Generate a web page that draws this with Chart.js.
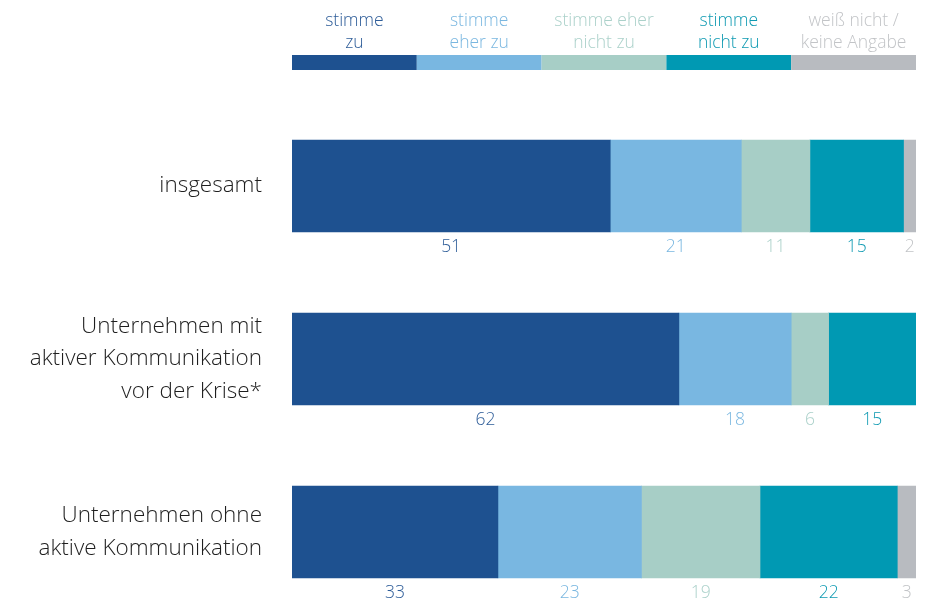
<!DOCTYPE html>
<html>
<head>
<meta charset="utf-8">
<script src="https://cdn.jsdelivr.net/npm/chart.js@4/dist/chart.umd.min.js"></script>
<style>
  html, body { margin: 0; padding: 0; background: #fff; }
  #wrap { width: 931px; height: 599px; }
</style>
</head>
<body>
<div id="wrap"><canvas id="chart"></canvas></div>
<script>
const categories = [
  ["insgesamt"],
  ["Unternehmen mit", "aktiver Kommunikation", "vor der Krise*"],
  ["Unternehmen ohne", "aktive Kommunikation"]
];
const seriesNames = [
  ["stimme", "zu"],
  ["stimme", "eher zu"],
  ["stimme eher", "nicht zu"],
  ["stimme", "nicht zu"],
  ["weiß nicht /", "keine Angabe"]
];
const stimmeZu = [51, 62, 33];
const stimmeEherZu = [21, 18, 23];
const stimmeEherNichtZu = [11, 6, 19];
const stimmeNichtZu = [15, 15, 22];
const weissNicht = [2, 0, 3];

const barColors = ['#1e5190', '#79b7e1', '#a7cec6', '#0099b3', '#b8bbc0'];
const textColors = ['#2d5c98', '#7ab7e0', '#abd1ca', '#0f9ab2', '#c2c4c7'];
const FONT = "'Open Sans', Lato, sans-serif";

const allSeries = [stimmeZu, stimmeEherZu, stimmeEherNichtZu, stimmeNichtZu, weissNicht];

// legend on top: text over coloured blocks, one fifth of the width each
const topLegend = {
  id: 'topLegend',
  afterDraw(chart) {
    const { ctx, chartArea } = chart;
    const w = (chartArea.right - chartArea.left) / seriesNames.length;
    ctx.save();
    ctx.font = '300 17.5px ' + FONT;
    ctx.textAlign = 'center';
    ctx.textBaseline = 'middle';
    seriesNames.forEach((lines, i) => {
      const x0 = chartArea.left + i * w;
      ctx.fillStyle = barColors[i];
      ctx.fillRect(x0, 55, w, 15);
      ctx.fillStyle = textColors[i];
      lines.forEach((t, j) => ctx.fillText(t, x0 + w / 2, 21 + j * 22));
    });
    ctx.restore();
  }
};

// numbers under each segment
const valueLabels = {
  id: 'valueLabels',
  afterDatasetsDraw(chart) {
    const { ctx } = chart;
    ctx.save();
    ctx.font = '300 17.5px ' + FONT;
    ctx.textAlign = 'center';
    ctx.textBaseline = 'middle';
    chart.data.datasets.forEach((ds, i) => {
      chart.getDatasetMeta(i).data.forEach((bar, j) => {
        const v = ds.data[j];
        if (!v) return;
        const right = Math.min(bar.x, chart.chartArea.right);
        ctx.fillStyle = textColors[i];
        ctx.fillText(String(v), (right + bar.base) / 2, bar.y + bar.height / 2 + 15);
      });
    });
    ctx.restore();
  }
};

new Chart(document.getElementById('chart'), {
  type: 'bar',
  data: {
    labels: categories,
    datasets: allSeries.map((d, i) => ({
      label: seriesNames[i].join(' '),
      data: d,
      backgroundColor: barColors[i],
      borderWidth: 0,
      barThickness: 92,
      clip: { left: 0, right: 0, top: 60, bottom: 60 }
    }))
  },
  options: {
    indexAxis: 'y',
    responsive: true,
    maintainAspectRatio: false,
    animation: false,
    layout: { padding: { top: 186, bottom: 67, right: 15, left: 0 } },
    plugins: {
      legend: { display: false },
      tooltip: { enabled: false }
    },
    scales: {
      x: {
        stacked: true,
        min: 0,
        max: 100,
        display: false
      },
      y: {
        stacked: true,
        offset: false,
        border: { display: false },
        grid: { display: false, drawTicks: false },
        ticks: {
          color: '#1e1e1e',
          padding: 30,
          font: { family: FONT, size: 22.5, weight: 300, lineHeight: 1.46 }
        },
        afterFit(scale) { scale.width = 292; }
      }
    }
  },
  plugins: [topLegend, valueLabels]
});
</script>
</body>
</html>
